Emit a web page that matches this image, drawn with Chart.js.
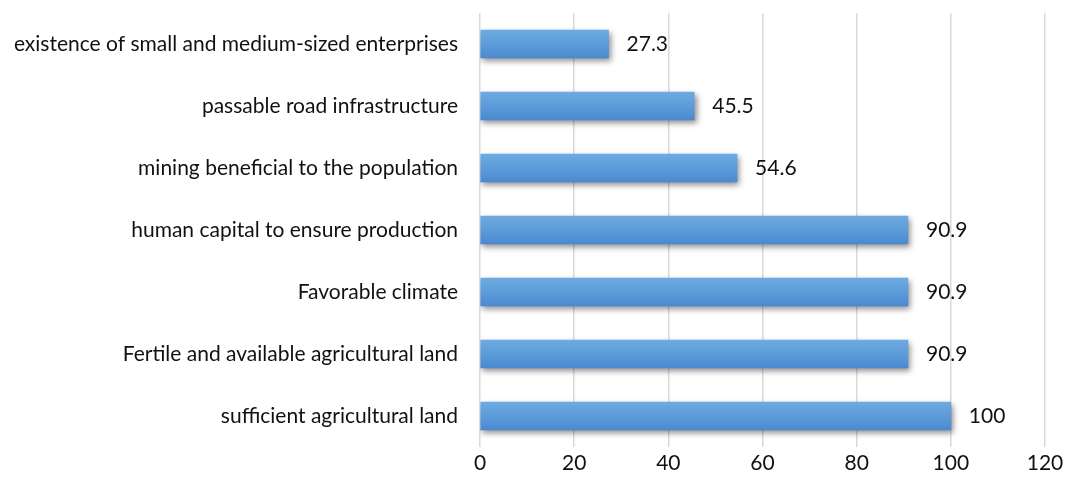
<!DOCTYPE html>
<html>
<head>
<meta charset="utf-8">
<script src="https://cdn.jsdelivr.net/npm/chart.js@4"></script>
<style>
  html, body { margin: 0; padding: 0; background: #fff; }
  #wrap { width: 1072px; height: 493px; }
</style>
</head>
<body>
<div id="wrap"><canvas id="barChart"></canvas></div>
<script>
const factors = [
  "existence of small and medium-sized enterprises",
  "passable road infrastructure",
  "mining beneficial to the population",
  "human capital to ensure production",
  "Favorable climate",
  "Fertile and available agricultural land",
  "sufficient agricultural land"
];
const shares = [27.3, 45.5, 54.6, 90.9, 90.9, 90.9, 100];
const axisTicks = [0, 20, 40, 60, 80, 100, 120];

const FONT = "Lato, 'Open Sans', sans-serif";
const FONT_SIZE = 21;
const BAR_H = 28;

// soft drop shadow under the bars
const barShadow = {
  id: "barShadow",
  beforeDatasetsDraw(chart) {
    const ctx = chart.ctx;
    ctx.save();
    ctx.shadowColor = "rgba(0,0,0,0.45)";
    ctx.shadowBlur = 6;
    ctx.shadowOffsetX = 2;
    ctx.shadowOffsetY = 3;
  },
  afterDatasetsDraw(chart) {
    chart.ctx.restore();
  }
};

// value printed right of each bar
const valueLabels = {
  id: "valueLabels",
  afterDatasetsDraw(chart) {
    const ctx = chart.ctx;
    const meta = chart.getDatasetMeta(0);
    ctx.save();
    ctx.font = FONT_SIZE + "px " + FONT;
    ctx.fillStyle = "#111";
    ctx.textAlign = "left";
    ctx.textBaseline = "middle";
    meta.data.forEach((bar, i) => {
      ctx.fillText(String(shares[i]), bar.x + 18, bar.y);
    });
    ctx.restore();
  }
};

function barFill(context) {
  const yScale = context.chart.scales.y;
  if (!context.chart.chartArea || !yScale) return "#5b9bd5";
  const cy = yScale.getPixelForValue(context.dataIndex);
  if (!isFinite(cy)) return "#5b9bd5";
  const g = context.chart.ctx.createLinearGradient(0, cy - BAR_H / 2, 0, cy + BAR_H / 2);
  g.addColorStop(0, "#6eaae2");
  g.addColorStop(0.5, "#5d9cd9");
  g.addColorStop(1, "#4a89cf");
  return g;
}

new Chart(document.getElementById("barChart"), {
  type: "bar",
  data: {
    labels: factors,
    datasets: [{
      data: shares,
      backgroundColor: barFill,
      borderWidth: 0,
      barThickness: BAR_H
    }]
  },
  options: {
    indexAxis: "y",
    responsive: true,
    maintainAspectRatio: false,
    animation: false,
    layout: { padding: { top: 13, right: 27, bottom: 0, left: 0 } },
    plugins: {
      legend: { display: false },
      tooltip: { enabled: false }
    },
    scales: {
      x: {
        min: axisTicks[0],
        max: axisTicks[axisTicks.length - 1],
        afterBuildTicks(scale) {
          scale.ticks = axisTicks.map(v => ({ value: v }));
        },
        afterFit(scale) {
          scale.height = 46;
          scale.paddingLeft = 0;
          scale.paddingRight = 0;
        },
        grid: { color: "#d9d9d9", lineWidth: 1.5, drawTicks: false },
        border: { display: false },
        ticks: {
          padding: 4,
          color: "#111",
          font: { family: FONT, size: FONT_SIZE }
        }
      },
      y: {
        afterFit(scale) {
          scale.width = 480;
          scale.paddingTop = 0;
          scale.paddingBottom = 0;
        },
        grid: { display: false, drawTicks: false },
        border: { display: false },
        ticks: {
          padding: 22,
          color: "#111",
          font: { family: FONT, size: FONT_SIZE }
        }
      }
    }
  },
  plugins: [barShadow, valueLabels]
});
</script>
</body>
</html>
